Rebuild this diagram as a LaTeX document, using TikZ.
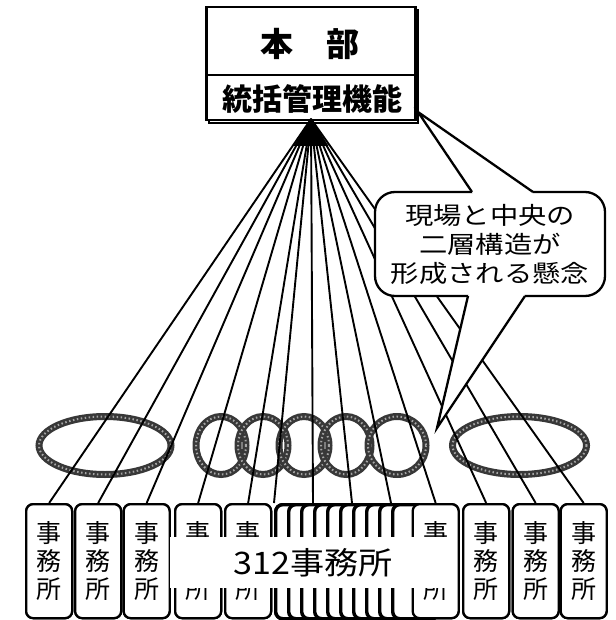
\documentclass[tikz,border=0pt]{standalone}
\usepackage{fontspec}
\newfontfamily\jp{Noto Sans CJK JP}
\newcommand\xwide[1]{\scalebox{1.18}[1]{#1}}
\tikzset{
  office/.style={draw, line width=2.3pt, rounded corners=7pt, fill=white,
    minimum width=46pt, minimum height=114pt, inner sep=0pt, anchor=north west,
    align=center, font=\jp\fontsize{25}{28}\selectfont},
  stackbox/.style={office, line width=3.4pt},
  ring/.style={draw=black!78, line width=7pt,
    postaction={draw=black!35, line width=2pt, dash pattern=on 1.5pt off 2.5pt}},
  spoke/.style={line width=1.9pt},
  bubble/.style={draw, line width=2.3pt, rounded corners=20pt, fill=white,
    minimum width=230pt, minimum height=104pt, inner sep=0pt},
  pointer/.style={line width=2.3pt, line join=miter},
}
\begin{document}
\begin{tikzpicture}[x=1pt,y=-1pt]
\useasboundingbox (0,0) rectangle (615,620);

% header
\draw[line width=1.5pt] (209,10) rectangle (418,123);
\node[draw, line width=2.5pt, fill=white, minimum width=209pt, minimum height=113pt,
  inner sep=0pt, anchor=north west] (hq) at (205,6) {};
\draw[line width=2.5pt] (hq.west |- 0,75) -- (hq.east |- 0,75);
\node[font=\jp\bfseries\fontsize{33}{33}\selectfont] (title) at (310,44) {本　部};
\node[font=\jp\bfseries\fontsize{30}{30}\selectfont] (func) at (312,99) {統括管理機能};
\coordinate (apex) at (311,119);
\coordinate (tipA) at (418,112);
\coordinate (tipB) at (437,428);

% rings
\draw[ring] (105,445.5) ellipse [x radius=66, y radius=29];
\draw[ring] (519.5,445.5) ellipse [x radius=67, y radius=29];
\draw[ring] (221,445.5) ellipse [x radius=25, y radius=29];
\draw[ring] (263,445.5) ellipse [x radius=25, y radius=29];
\draw[ring] (304,445.5) ellipse [x radius=25, y radius=29];
\draw[ring] (346,445.5) ellipse [x radius=25, y radius=29];
\draw[ring] (397,445.5) ellipse [x radius=29, y radius=29];

% offices (positions)
\node[office] (b1) at (25,503) {事\\務\\所};
\node[office] (b2) at (74,503) {事\\務\\所};
\node[office] (b3) at (122.5,503) {事\\務\\所};
\node[office] (b4) at (174,503) {事\\務\\所};
\foreach \i/\x in {1/274,2/287,3/300,4/313,5/326,6/339,7/352,8/365,9/378,10/391}
  \node[stackbox] (s\i) at (\x,503) {};
\node[office] (b5) at (224,503) {事\\務\\所};
\node[office] (b6) at (411.5,503) {事\\務\\所};
\node[office] (b7) at (462,503) {事\\務\\所};
\node[office] (b8) at (511.5,503) {事\\務\\所};
\node[office] (b9) at (559.5,503) {事\\務\\所};

% spokes
\foreach \t in {b1.north,b2.north,b3.north,b4.north,b5.north,s1.north west,s4.north west,
  s7.north west,s10.north west,b6.north,b7.north,b8.north,b9.north}
  \draw[spoke] (apex) -- (\t);
\fill (apex) -- (293.5,146) -- (328.5,146) -- cycle;

% redraw offices over spoke ends
\node[office] at (25,503) {事\\務\\所};
\node[office] at (74,503) {事\\務\\所};
\node[office] at (122.5,503) {事\\務\\所};
\node[office] at (174,503) {事\\務\\所};
\foreach \x in {274,287,300,313,326,339,352,365,378,391}
  \node[stackbox] at (\x,503) {};
\node[office] at (224,503) {事\\務\\所};
\node[office] at (411.5,503) {事\\務\\所};
\node[office] at (462,503) {事\\務\\所};
\node[office] at (511.5,503) {事\\務\\所};
\node[office] at (559.5,503) {事\\務\\所};

% label over stacked offices
\node[fill=white, minimum width=286pt, minimum height=51pt, inner sep=0pt,
  font=\jp\fontsize{31}{31}\selectfont] (lbl) at (313,562.5) {\scalebox{1.1}[1]{312事務所}};

% callout
\node[bubble, align=center, font=\jp\fontsize{24}{29}\selectfont] (callout) at (490,244)
  {\xwide{現場と中央の}\\\xwide{二層構造が}\\\xwide{形成される懸念}};
\fill[white] (tipA) -- (472,192) -- (473,195) -- (532,195) -- (533,192) -- cycle;
\draw[pointer] (472,192) -- (tipA) -- (533,192);
\fill[white] (tipB) -- (468,296) -- (469,293) -- (524,293) -- (525,296) -- cycle;
\draw[pointer] (468,296) -- (tipB) -- (525,296);
\end{tikzpicture}
\end{document}
